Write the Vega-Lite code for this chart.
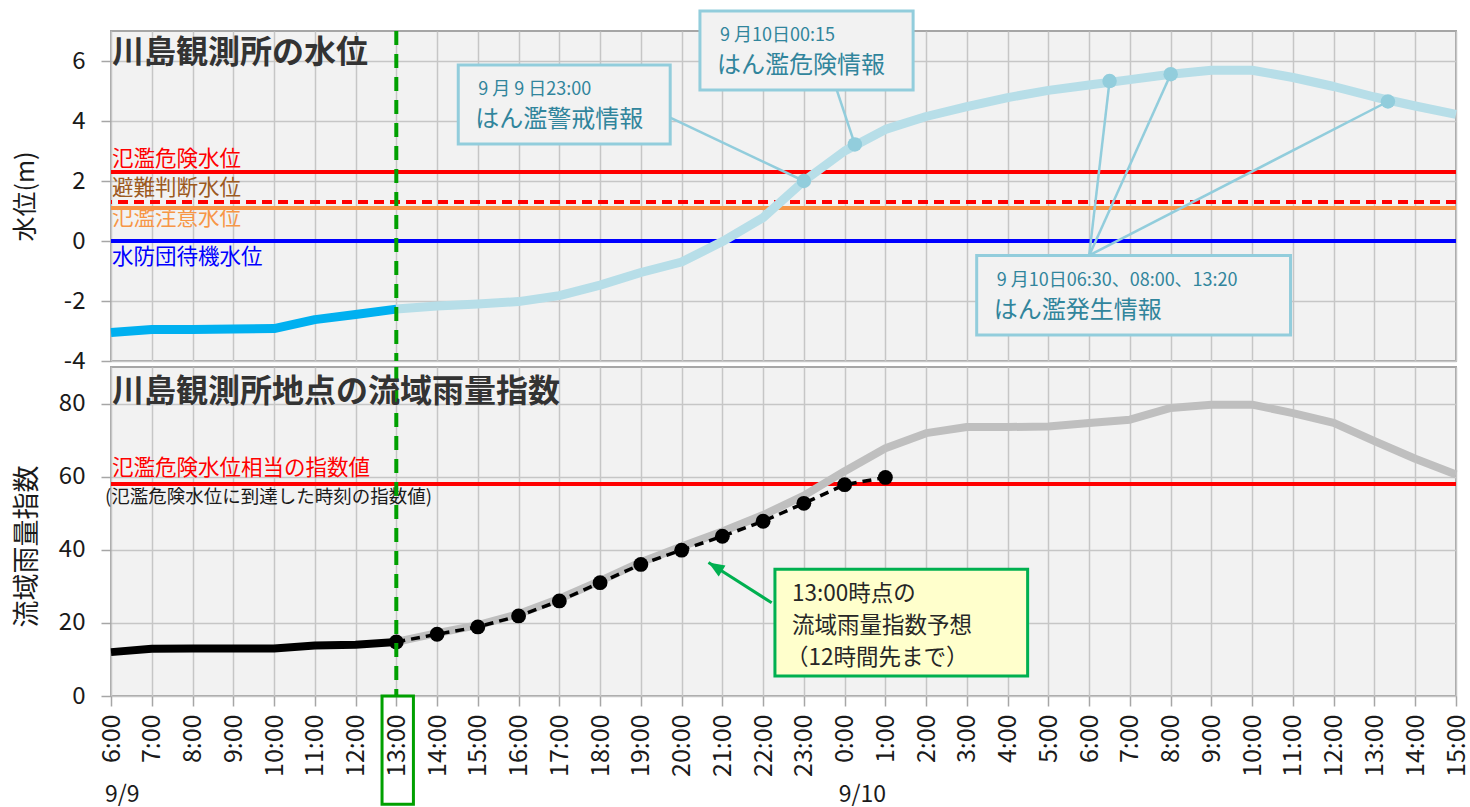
{
  "$schema": "https://vega.github.io/schema/vega-lite/v6.json",
  "padding": {"left": 12, "top": 8, "right": 5, "bottom": 0},
  "spacing": 6,
  "bounds": "flush",
  "config": {
    "font": "Noto Sans CJK JP",
    "view": {"fill": "#f2f2f2", "stroke": "#a6a6a6", "strokeWidth": 2},
    "axis": {
      "gridColor": "#c6c6c6", "gridWidth": 1.5,
      "tickColor": "#a6a6a6", "tickWidth": 1.5, "tickSize": 10,
      "domain": false,
      "labelFont": "Noto Sans CJK JP", "labelFontSize": 24, "labelColor": "#1a1a1a",
      "titleFont": "Noto Sans CJK JP", "titleColor": "#1a1a1a", "titleFontWeight": "normal",
      "labelFlush": false, "labelOverlap": false, "labelBound": false
    }
  },
  "datasets": {
    "thresh": [
      {"name": "氾濫危険水位", "level": 2.3},
      {"name": "避難判断水位", "level": 1.3},
      {"name": "氾濫注意水位", "level": 1.1},
      {"name": "水防団待機水位", "level": 0}
    ],
    "wl": [
      {"h": 6, "level": -3.05, "phase": "before"},
      {"h": 7, "level": -2.95, "phase": "before"},
      {"h": 8, "level": -2.95, "phase": "before"},
      {"h": 9, "level": -2.93, "phase": "before"},
      {"h": 10, "level": -2.92, "phase": "before"},
      {"h": 11, "level": -2.62, "phase": "before"},
      {"h": 12, "level": -2.45, "phase": "before"},
      {"h": 13, "level": -2.27, "phase": "before"},
      {"h": 13, "level": -2.27, "phase": "after"},
      {"h": 14, "level": -2.17, "phase": "after"},
      {"h": 15, "level": -2.1, "phase": "after"},
      {"h": 16, "level": -2.02, "phase": "after"},
      {"h": 17, "level": -1.82, "phase": "after"},
      {"h": 18, "level": -1.47, "phase": "after"},
      {"h": 19, "level": -1.05, "phase": "after"},
      {"h": 20, "level": -0.7, "phase": "after"},
      {"h": 21, "level": -0.02, "phase": "after"},
      {"h": 22, "level": 0.78, "phase": "after"},
      {"h": 23, "level": 2.0, "phase": "after"},
      {"h": 24, "level": 3.0, "phase": "after"},
      {"h": 25, "level": 3.72, "phase": "after"},
      {"h": 26, "level": 4.15, "phase": "after"},
      {"h": 27, "level": 4.48, "phase": "after"},
      {"h": 28, "level": 4.78, "phase": "after"},
      {"h": 29, "level": 5.02, "phase": "after"},
      {"h": 30, "level": 5.2, "phase": "after"},
      {"h": 31, "level": 5.38, "phase": "after"},
      {"h": 32, "level": 5.56, "phase": "after"},
      {"h": 33, "level": 5.69, "phase": "after"},
      {"h": 34, "level": 5.69, "phase": "after"},
      {"h": 35, "level": 5.45, "phase": "after"},
      {"h": 36, "level": 5.15, "phase": "after"},
      {"h": 37, "level": 4.8, "phase": "after"},
      {"h": 38, "level": 4.5, "phase": "after"},
      {"h": 39, "level": 4.22, "phase": "after"}
    ],
    "alerts": [
      {"h": 23, "level": 2.0, "ax": 19.72, "ay": 4.11},
      {"h": 24.25, "level": 3.22, "ax": 23.81, "ay": 5.02},
      {"h": 30.5, "level": 5.33, "ax": 30.0, "ay": -0.48},
      {"h": 32, "level": 5.56, "ax": 30.0, "ay": -0.48},
      {"h": 37.33, "level": 4.65, "ax": 30.0, "ay": -0.48}
    ],
    "callouts": [
      {"x0": 14.52, "x1": 19.72, "ytop": 5.87, "ybot": 3.23, "l1": "9 月 9 日23:00", "l2": "はん濫警戒情報"},
      {"x0": 20.45, "x1": 25.68, "ytop": 7.67, "ybot": 5.03, "l1": "9 月10日00:15", "l2": "はん濫危険情報"},
      {"x0": 27.24, "x1": 34.94, "ytop": -0.48, "ybot": -3.13, "l1": "9 月10日06:30、08:00、13:20", "l2": "はん濫発生情報"}
    ],
    "rain": [
      {"h": 6, "idx": 12, "series": "obs"},
      {"h": 7, "idx": 12.9, "series": "obs"},
      {"h": 8, "idx": 13, "series": "obs"},
      {"h": 9, "idx": 13, "series": "obs"},
      {"h": 10, "idx": 13, "series": "obs"},
      {"h": 11, "idx": 13.8, "series": "obs"},
      {"h": 12, "idx": 14, "series": "obs"},
      {"h": 13, "idx": 14.8, "series": "obs"},
      {"h": 13, "idx": 14.8, "series": "fc"},
      {"h": 14, "idx": 16.9, "series": "fc"},
      {"h": 15, "idx": 18.9, "series": "fc"},
      {"h": 16, "idx": 21.9, "series": "fc"},
      {"h": 17, "idx": 26, "series": "fc"},
      {"h": 18, "idx": 31, "series": "fc"},
      {"h": 19, "idx": 36, "series": "fc"},
      {"h": 20, "idx": 39.9, "series": "fc"},
      {"h": 21, "idx": 43.7, "series": "fc"},
      {"h": 22, "idx": 47.8, "series": "fc"},
      {"h": 23, "idx": 52.7, "series": "fc"},
      {"h": 24, "idx": 57.8, "series": "fc"},
      {"h": 25, "idx": 59.8, "series": "fc"},
      {"h": 13, "idx": 14.8, "series": "act"},
      {"h": 14, "idx": 17.2, "series": "act"},
      {"h": 15, "idx": 19.4, "series": "act"},
      {"h": 16, "idx": 22.4, "series": "act"},
      {"h": 17, "idx": 26.6, "series": "act"},
      {"h": 18, "idx": 31.5, "series": "act"},
      {"h": 19, "idx": 36.6, "series": "act"},
      {"h": 20, "idx": 40.9, "series": "act"},
      {"h": 21, "idx": 45, "series": "act"},
      {"h": 22, "idx": 49.5, "series": "act"},
      {"h": 23, "idx": 54.8, "series": "act"},
      {"h": 24, "idx": 61.5, "series": "act"},
      {"h": 25, "idx": 67.8, "series": "act"},
      {"h": 26, "idx": 71.9, "series": "act"},
      {"h": 27, "idx": 73.6, "series": "act"},
      {"h": 28, "idx": 73.6, "series": "act"},
      {"h": 29, "idx": 73.7, "series": "act"},
      {"h": 30, "idx": 74.7, "series": "act"},
      {"h": 31, "idx": 75.6, "series": "act"},
      {"h": 32, "idx": 78.8, "series": "act"},
      {"h": 33, "idx": 79.7, "series": "act"},
      {"h": 34, "idx": 79.7, "series": "act"},
      {"h": 35, "idx": 77.4, "series": "act"},
      {"h": 36, "idx": 74.7, "series": "act"},
      {"h": 37, "idx": 69.7, "series": "act"},
      {"h": 38, "idx": 64.9, "series": "act"},
      {"h": 39, "idx": 60.6, "series": "act"}
    ],
    "rainThresh": [
      {"level": 58, "l1": "氾濫危険水位相当の指数値", "l2": "(氾濫危険水位に到達した時刻の指数値)"}
    ],
    "note": [
      {"x0": 22.29, "x1": 28.49, "ytop": 34.7, "ybot": 5.47, "l1": "13:00時点の", "l2": "流域雨量指数予想", "l3": "（12時間先まで）",
       "tailH": 22.21, "tailV": 25.5, "tipH": 20.66, "tipV": 36.5}
    ],
    "dates": [
      {"h": 6, "label": "9/9"},
      {"h": 24, "label": "9/10"}
    ],
    "now": [
      {"h": 13, "label": "13:00"}
    ]
  },
  "vconcat": [
    {
      "width": 1345,
      "height": 330,
      "layer": [
        {
          "data": {"name": "thresh"},
          "mark": {"type": "rule", "strokeWidth": 4},
          "encoding": {
            "y": {"field": "level", "type": "quantitative",
                  "scale": {"domain": [-4, 7], "nice": false, "zero": false},
                  "axis": {"values": [-4, -2, 0, 2, 4, 6], "labelExpr": "datum.value + ''", "title": "水位(m)", "titleFontSize": 25,
                           "titleX": -86, "titleBaseline": "middle", "labelPadding": 16, "grid": true}},
            "color": {"field": "name", "type": "nominal",
                      "scale": {"domain": ["氾濫危険水位", "避難判断水位", "氾濫注意水位", "水防団待機水位"],
                                "range": ["#ff0000", "#ff0000", "#f79646", "#0000ff"]}, "legend": null},
            "strokeDash": {"field": "name", "type": "nominal",
                      "scale": {"domain": ["氾濫危険水位", "避難判断水位", "氾濫注意水位", "水防団待機水位"],
                                "range": [[1, 0], [10, 6], [1, 0], [1, 0]]}, "legend": null}
          }
        },
        {
          "data": {"name": "thresh"},
          "transform": [{"filter": "datum.name === '氾濫危険水位'"}],
          "mark": {"type": "text", "align": "left", "baseline": "middle", "dx": 1, "dy": -12.5, "fontSize": 21.5, "color": "#ff0000"},
          "encoding": {"y": {"field": "level", "type": "quantitative"}, "x": {"datum": 6, "type": "quantitative"}, "text": {"field": "name"}}
        },
        {
          "data": {"name": "thresh"},
          "transform": [{"filter": "datum.name === '避難判断水位'"}],
          "mark": {"type": "text", "align": "left", "baseline": "middle", "dx": 1, "dy": -13, "fontSize": 21.5, "color": "#9c5a1e"},
          "encoding": {"y": {"field": "level", "type": "quantitative"}, "x": {"datum": 6, "type": "quantitative"}, "text": {"field": "name"}}
        },
        {
          "data": {"name": "thresh"},
          "transform": [{"filter": "datum.name === '氾濫注意水位'"}],
          "mark": {"type": "text", "align": "left", "baseline": "middle", "dx": 1, "dy": 11, "fontSize": 21.5, "color": "#f79646"},
          "encoding": {"y": {"field": "level", "type": "quantitative"}, "x": {"datum": 6, "type": "quantitative"}, "text": {"field": "name"}}
        },
        {
          "data": {"name": "thresh"},
          "transform": [{"filter": "datum.name === '水防団待機水位'"}],
          "mark": {"type": "text", "align": "left", "baseline": "middle", "dx": 1, "dy": 17, "fontSize": 21.5, "color": "#0000ff"},
          "encoding": {"y": {"field": "level", "type": "quantitative"}, "x": {"datum": 6, "type": "quantitative"}, "text": {"field": "name"}}
        },
        {
          "data": {"name": "wl"},
          "transform": [{"filter": "datum.phase === 'after'"}],
          "mark": {"type": "line", "strokeWidth": 9, "strokeJoin": "round", "color": "#b7dee8"},
          "encoding": {
            "x": {"field": "h", "type": "quantitative",
                  "scale": {"domain": [6, 39], "nice": false, "zero": false},
                  "axis": {"values": [6,7,8,9,10,11,12,13,14,15,16,17,18,19,20,21,22,23,24,25,26,27,28,29,30,31,32,33,34,35,36,37,38,39],
                           "labels": false, "ticks": false, "domain": false, "title": null, "grid": true}},
            "y": {"field": "level", "type": "quantitative"}
          }
        },
        {
          "data": {"name": "wl"},
          "transform": [{"filter": "datum.phase === 'before'"}],
          "mark": {"type": "line", "strokeWidth": 9, "strokeJoin": "round", "color": "#00b0f0"},
          "encoding": {
            "x": {"field": "h", "type": "quantitative"},
            "y": {"field": "level", "type": "quantitative"}
          }
        },
        {
          "data": {"name": "alerts"},
          "mark": {"type": "rule", "strokeWidth": 2.5, "color": "#92cddc"},
          "encoding": {
            "x": {"field": "ax", "type": "quantitative"},
            "y": {"field": "ay", "type": "quantitative"},
            "x2": {"field": "h"},
            "y2": {"field": "level"}
          }
        },
        {
          "data": {"name": "alerts"},
          "mark": {"type": "point", "filled": true, "size": 210, "color": "#92cddc", "opacity": 1},
          "encoding": {
            "x": {"field": "h", "type": "quantitative"},
            "y": {"field": "level", "type": "quantitative"}
          }
        },
        {
          "data": {"name": "now"},
          "mark": {"type": "rule", "color": "#00a000", "strokeWidth": 4, "strokeDash": [14, 9]},
          "encoding": {"x": {"field": "h", "type": "quantitative"}}
        },
        {
          "data": {"name": "callouts"},
          "mark": {"type": "rect", "fill": "#f2f2f2", "stroke": "#92cddc", "strokeWidth": 3},
          "encoding": {
            "x": {"field": "x0", "type": "quantitative"},
            "x2": {"field": "x1"},
            "y": {"field": "ytop", "type": "quantitative"},
            "y2": {"field": "ybot"}
          }
        },
        {
          "data": {"name": "callouts"},
          "mark": {"type": "text", "align": "left", "baseline": "middle", "dx": 20, "dy": 25.5, "fontSize": 18, "color": "#31859c"},
          "encoding": {
            "x": {"field": "x0", "type": "quantitative"},
            "y": {"field": "ytop", "type": "quantitative"},
            "text": {"field": "l1"}
          }
        },
        {
          "data": {"name": "callouts"},
          "mark": {"type": "text", "align": "left", "baseline": "middle", "dx": 17, "dy": 55.5, "fontSize": 24, "color": "#31859c"},
          "encoding": {
            "x": {"field": "x0", "type": "quantitative"},
            "y": {"field": "ytop", "type": "quantitative"},
            "text": {"field": "l2"}
          }
        },
        {
          "data": {"values": [{"title": "川島観測所の水位"}]},
          "mark": {"type": "text", "align": "left", "baseline": "middle", "dx": 1, "dy": 22, "fontSize": 32, "fontWeight": "bold", "color": "#333333"},
          "encoding": {
            "x": {"datum": 6, "type": "quantitative"},
            "y": {"datum": 7, "type": "quantitative"},
            "text": {"field": "title"}
          }
        }
      ]
    },
    {
      "width": 1345,
      "height": 329,
      "layer": [
        {
          "data": {"name": "rainThresh"},
          "mark": {"type": "rule", "strokeWidth": 4, "color": "#ff0000"},
          "encoding": {
            "y": {"field": "level", "type": "quantitative",
                  "scale": {"domain": [0, 90], "nice": false, "zero": false},
                  "axis": {"values": [0, 20, 40, 60, 80], "title": "流域雨量指数", "titleFontSize": 27,
                           "titleX": -84, "titleY": 179, "titleBaseline": "middle", "labelPadding": 16, "grid": true}}
          }
        },
        {
          "data": {"name": "rainThresh"},
          "mark": {"type": "text", "align": "left", "baseline": "middle", "dx": 1, "dy": -15, "fontSize": 21.5, "color": "#ff0000"},
          "encoding": {"y": {"field": "level", "type": "quantitative"}, "x": {"datum": 6, "type": "quantitative"}, "text": {"field": "l1"}}
        },
        {
          "data": {"name": "rainThresh"},
          "mark": {"type": "text", "align": "left", "baseline": "middle", "dx": -6, "dy": 13.5, "fontSize": 18.5, "color": "#1a1a1a"},
          "encoding": {"y": {"field": "level", "type": "quantitative"}, "x": {"datum": 6, "type": "quantitative"}, "text": {"field": "l2"}}
        },
        {
          "data": {"name": "rain"},
          "transform": [{"filter": "datum.series === 'act'"}],
          "mark": {"type": "line", "strokeWidth": 8, "color": "#bfbfbf", "strokeJoin": "round"},
          "encoding": {
            "x": {"field": "h", "type": "quantitative",
                  "scale": {"domain": [6, 39], "nice": false, "zero": false},
                  "axis": {"values": [6,7,8,9,10,11,12,13,14,15,16,17,18,19,20,21,22,23,24,25,26,27,28,29,30,31,32,33,34,35,36,37,38,39],
                           "labelExpr": "(datum.value % 24) + ':00'", "labelAngle": 270, "labelPadding": 8, "labelFontSize": 25,
                           "title": null, "grid": true}},
            "y": {"field": "idx", "type": "quantitative"}
          }
        },
        {
          "data": {"name": "rain"},
          "transform": [{"filter": "datum.series === 'obs'"}],
          "mark": {"type": "line", "strokeWidth": 8, "color": "#000000", "strokeJoin": "round"},
          "encoding": {
            "x": {"field": "h", "type": "quantitative"},
            "y": {"field": "idx", "type": "quantitative"}
          }
        },
        {
          "data": {"name": "rain"},
          "transform": [{"filter": "datum.series === 'fc'"}],
          "mark": {"type": "line", "strokeWidth": 3.5, "color": "#000000", "strokeDash": [9, 6]},
          "encoding": {
            "x": {"field": "h", "type": "quantitative"},
            "y": {"field": "idx", "type": "quantitative"}
          }
        },
        {
          "data": {"name": "rain"},
          "transform": [{"filter": "datum.series === 'fc'"}],
          "mark": {"type": "point", "filled": true, "size": 220, "color": "#000000", "opacity": 1},
          "encoding": {
            "x": {"field": "h", "type": "quantitative"},
            "y": {"field": "idx", "type": "quantitative"}
          }
        },
        {
          "data": {"name": "now"},
          "mark": {"type": "rule", "color": "#00a000", "strokeWidth": 4, "strokeDash": [14, 9]},
          "encoding": {"x": {"field": "h", "type": "quantitative"}}
        },
        {
          "data": {"name": "note"},
          "mark": {"type": "rule", "color": "#00b050", "strokeWidth": 3},
          "encoding": {
            "x": {"field": "tailH", "type": "quantitative"},
            "y": {"field": "tailV", "type": "quantitative"},
            "x2": {"field": "tipH"},
            "y2": {"field": "tipV"}
          }
        },
        {
          "data": {"name": "note"},
          "mark": {"type": "point", "shape": "M0,0L0.8,2L-0.8,2Z", "filled": true, "size": 256, "angle": 302, "color": "#00b050", "opacity": 1},
          "encoding": {
            "x": {"field": "tipH", "type": "quantitative"},
            "y": {"field": "tipV", "type": "quantitative"}
          }
        },
        {
          "data": {"name": "note"},
          "mark": {"type": "rect", "fill": "#ffffcc", "stroke": "#00b050", "strokeWidth": 3},
          "encoding": {
            "x": {"field": "x0", "type": "quantitative"},
            "x2": {"field": "x1"},
            "y": {"field": "ytop", "type": "quantitative"},
            "y2": {"field": "ybot"}
          }
        },
        {
          "data": {"name": "note"},
          "mark": {"type": "text", "align": "left", "baseline": "middle", "dx": 17, "dy": 24.5, "fontSize": 22.5, "color": "#262626"},
          "encoding": {"x": {"field": "x0", "type": "quantitative"}, "y": {"field": "ytop", "type": "quantitative"}, "text": {"field": "l1"}}
        },
        {
          "data": {"name": "note"},
          "mark": {"type": "text", "align": "left", "baseline": "middle", "dx": 17, "dy": 57, "fontSize": 22.5, "color": "#262626"},
          "encoding": {"x": {"field": "x0", "type": "quantitative"}, "y": {"field": "ytop", "type": "quantitative"}, "text": {"field": "l2"}}
        },
        {
          "data": {"name": "note"},
          "mark": {"type": "text", "align": "left", "baseline": "middle", "dx": 11, "dy": 88.5, "fontSize": 22.5, "color": "#262626"},
          "encoding": {"x": {"field": "x0", "type": "quantitative"}, "y": {"field": "ytop", "type": "quantitative"}, "text": {"field": "l3"}}
        },
        {
          "data": {"name": "now"},
          "mark": {"type": "rect", "fill": null, "fillOpacity": 0, "stroke": "#00a000", "strokeWidth": 3},
          "encoding": {
            "x": {"datum": 12.65, "type": "quantitative"},
            "x2": {"datum": 13.42},
            "y": {"datum": 0, "type": "quantitative"},
            "y2": {"datum": -29.6}
          }
        },
        {
          "data": {"name": "dates"},
          "mark": {"type": "text", "align": "left", "baseline": "middle", "dx": -6, "fontSize": 23, "color": "#1a1a1a"},
          "encoding": {
            "x": {"field": "h", "type": "quantitative"},
            "y": {"datum": -27.2, "type": "quantitative"},
            "text": {"field": "label"}
          }
        },
        {
          "data": {"values": [{"title": "川島観測所地点の流域雨量指数"}]},
          "mark": {"type": "text", "align": "left", "baseline": "middle", "dx": 1, "dy": 25, "fontSize": 32, "fontWeight": "bold", "color": "#333333"},
          "encoding": {
            "x": {"datum": 6, "type": "quantitative"},
            "y": {"datum": 90, "type": "quantitative"},
            "text": {"field": "title"}
          }
        }
      ]
    }
  ]
}
